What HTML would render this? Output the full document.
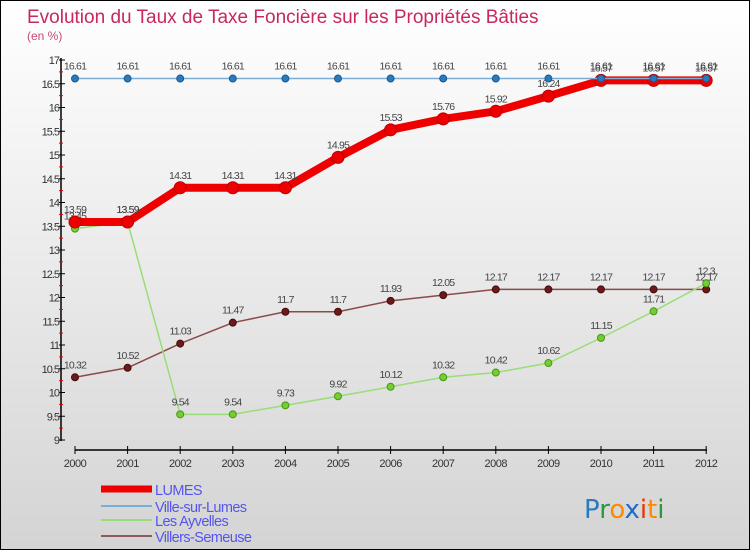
<!DOCTYPE html>
<html><head><meta charset="utf-8"><style>
body{margin:0}
#wrap{position:relative;width:748px;height:548px;border:1px solid #000;background:linear-gradient(#fff,#d4d4d4);font-family:"Liberation Sans",sans-serif;overflow:hidden}
</style></head><body>
<div id="wrap">
<svg id="svg" width="748" height="548"></svg>
</div>
<script>
const years=[2000,2001,2002,2003,2004,2005,2006,2007,2008,2009,2010,2011,2012];
const lumes=[13.59,13.59,14.31,14.31,14.31,14.95,15.53,15.76,15.92,16.24,16.57,16.57,16.57];
const ville=[16.61,16.61,16.61,16.61,16.61,16.61,16.61,16.61,16.61,16.61,16.61,16.61,16.61];
const ayvelles=[13.45,13.59,9.54,9.54,9.73,9.92,10.12,10.32,10.42,10.62,11.15,11.71,12.3];
const villers=[10.32,10.52,11.03,11.47,11.7,11.7,11.93,12.05,12.17,12.17,12.17,12.17,12.17];
const yTicks=[9,9.5,10,10.5,11,11.5,12,12.5,13,13.5,14,14.5,15,15.5,16,16.5,17];
const NS="http://www.w3.org/2000/svg";
const svg=document.getElementById('svg');
const X=i=>74+i*52.6;
const Y=v=>59+(17-v)*47.5;
function el(t,a,p){const e=document.createElementNS(NS,t);for(const k in a)e.setAttribute(k,a[k]);(p||svg).appendChild(e);return e;}
function txt(x,y,s,a){const e=el('text',Object.assign({x:x,y:y},a));e.textContent=s;return e;}
let t=txt(26,22,'Evolution du Taux de Taxe Foncière sur les Propriétés Bâties',{fill:'#c8285a','font-size':19});

t=txt(26,39,'(en %)',{fill:'#c8487a','font-size':12});

let ax=el('line',{x1:60,y1:57,x2:60,y2:440,stroke:'#000','stroke-width':1.5});

yTicks.forEach((v,i)=>{
  const y=Y(v);
  el('line',{x1:58,y1:y,x2:64,y2:y,stroke:'#000'});
  if(i<yTicks.length-1){const ym=Y(v+0.25);el('line',{x1:58,y1:ym,x2:62,y2:ym,stroke:'#e00'});}
  const l=txt(58,y+4,String(v),{fill:'#333','font-size':11,'text-anchor':'end','letter-spacing':-1});
  
});
ax=el('line',{x1:74,y1:449,x2:706,y2:449,stroke:'#000','stroke-width':1.5});

years.forEach((yr,i)=>{
  el('line',{x1:X(i),y1:445,x2:X(i),y2:453,stroke:'#000'});
  const l=txt(X(i),466,String(yr),{fill:'#333','font-size':11,'text-anchor':'middle','letter-spacing':-0.5});
  
});
function series(data,name,color,w,r,fill,stroke){
  const g=el('g',{});
  
  const pts=data.map((v,i)=>X(i)+','+Y(v)).join(' ');
  el('polyline',{points:pts,fill:'none',stroke:color,'stroke-width':w,'stroke-linejoin':'round'},g);
  data.forEach((v,i)=>{
    const c=el('circle',{cx:X(i),cy:Y(v),r:r,fill:fill,stroke:stroke,'stroke-width':1},g);
    
    const l=txt(X(i),Y(v)-9,String(v),{fill:'#444','font-size':10.5,'text-anchor':'middle','letter-spacing':-0.8},g);
    
  });
}
series(villers,'villers-semeuse','#8b4a4a',1.5,3.5,'#6b1a1a','#4a0a0a');
series(ayvelles,'les-ayvelles','#99dd77',1.5,3.5,'#77cc33','#449911');
series(lumes,'lumes','#ee0000',8,6,'#ee0000','#bb0000');
series(ville,'ville-sur-lumes','#7aaed6',1.5,3.5,'#2a7ac0','#1a5a90');
const leg=[['LUMES','#ee0000',7],['Ville-sur-Lumes','#7aaed6',2],['Les Ayvelles','#99dd77',2],['Villers-Semeuse','#8b5a5a',2]];
const ly=[492,509,523,539];
leg.forEach((e,i)=>{
  const g=el('g',{});
  
  el('line',{x1:100,y1:ly[i]-4,x2:151,y2:ly[i]-4,stroke:e[1],'stroke-width':e[2]},g);
  txt(154,ly[i]+2,e[0],{fill:'#5555ee','font-size':14.5,'letter-spacing':-0.6},g);
});
const lg=el('text',{x:583,y:517,'font-size':26,'font-family':'DejaVu Sans, sans-serif'});

[['P','#2a7ac0'],['r','#2a9a3a'],['o','#ff8800'],['x','#1a6ad0'],['i','#ee3300'],['t','#ff8800'],['i','#2a9a3a']].forEach(c=>{
  const s=el('tspan',{fill:c[1]},lg);s.textContent=c[0];
});
</script>
</body></html>
